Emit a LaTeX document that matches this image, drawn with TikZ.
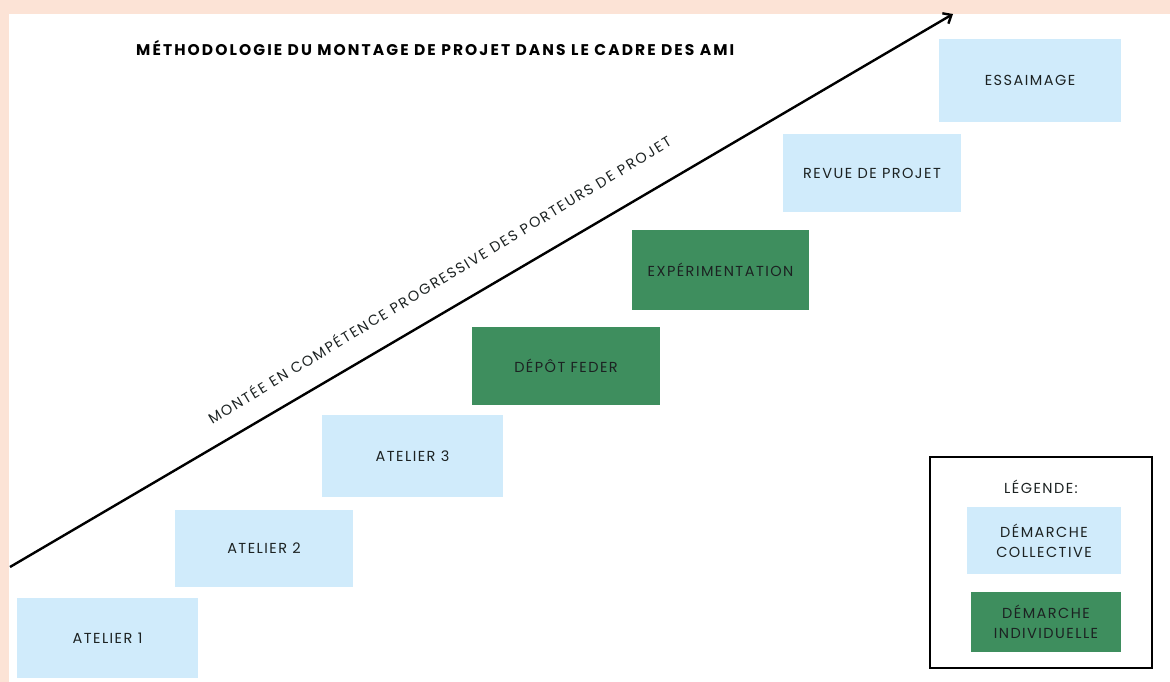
\documentclass[tikz,border=0pt]{standalone}
\usepackage{fontspec}
\setmainfont{Poppins}
\newfontfamily\titlefont[LetterSpace=13.5]{Poppins}
\newfontfamily\boxfont[LetterSpace=10]{Poppins}
\newfontfamily\slopefont[LetterSpace=12]{Poppins}
\usetikzlibrary{arrows.meta}
\definecolor{peach}{HTML}{FCE3D6}
\definecolor{lblue}{HTML}{D0EBFB}
\definecolor{dgreen}{HTML}{3E8E5E}
\definecolor{ink}{HTML}{1C2222}
\begin{document}
\begin{tikzpicture}[x=1pt,y=-1pt,
  stepbox/.style={rectangle, inner sep=0pt, align=center, text=ink,
    font=\boxfont\fontsize{14.5}{20}\selectfont},
  coll/.style={stepbox, fill=lblue},
  indiv/.style={stepbox, fill=dgreen}]
\fill[peach] (0,0) rectangle (1170,682);
\fill[white] (9,14) rectangle (1170,682);
\useasboundingbox (0,0) rectangle (1170,682);

% title
\node[anchor=west, inner sep=0pt, font=\titlefont\bfseries\fontsize{15.5}{18}\selectfont, text=black] (title) at (136,48)
  {MÉTHODOLOGIE DU MONTAGE DE PROJET DANS LE CADRE DES AMI};

% steps
\node[coll, minimum width=181, minimum height=80] (a1) at (107.5,638) {ATELIER 1};
\node[coll, minimum width=178, minimum height=77] (a2) at (264,548.5) {ATELIER 2};
\node[coll, minimum width=181, minimum height=82] (a3) at (412.5,456) {ATELIER 3};
\node[indiv, minimum width=188, minimum height=78] (dep) at (566,366) {DÉPÔT FEDER};
\node[indiv, minimum width=177, minimum height=80] (exp) at (720.5,270) {EXPÉRIMENTATION};
\node[coll, minimum width=178, minimum height=78] (rev) at (872,173) {REVUE DE PROJET};
\node[coll, minimum width=182, minimum height=83] (ess) at (1030,80.5) {ESSAIMAGE};

% arrow
\coordinate (s) at (10,567);
\coordinate (e) at (953,14);
\draw[line width=2.4, -{Straight Barb[length=7,width=12]}] (s) -- (e);
\node[rotate=31.3, inner sep=0pt, text=ink, font=\slopefont\fontsize{14.5}{16}\selectfont] (lab) at (439,279)
  {MONTÉE EN COMPÉTENCE PROGRESSIVE DES PORTEURS DE PROJET};

% legend
\node[draw=black, line width=2.8, minimum width=222, minimum height=211, inner sep=0pt] (leg) at (1041,562.5) {};
\node[stepbox, fill=none] (legt) at (1041,487) {LÉGENDE:};
\node[coll, minimum width=154, minimum height=67] (lc) at (1044,540.5) {DÉMARCHE\\COLLECTIVE};
\node[indiv, minimum width=150, minimum height=60] (li) at (1046,622) {DÉMARCHE\\INDIVIDUELLE};
\end{tikzpicture}
\end{document}
